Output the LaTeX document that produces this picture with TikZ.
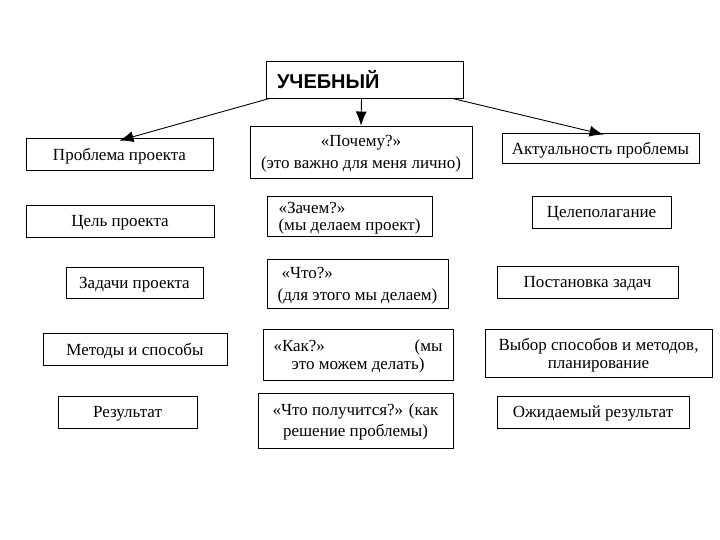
\documentclass[tikz,border=0pt]{standalone}
\usepackage{fontspec}
\setmainfont{Liberation Serif}
\newfontfamily\headfont{Liberation Sans}
\usetikzlibrary{arrows.meta}

\begin{document}
\begin{tikzpicture}[x=1pt,y=-1pt,
	box/.style={draw,line width=0.9pt,inner sep=0pt,text depth=0pt,font=\fontsize{17}{20}\selectfont},
	arr/.style={line width=0.9pt,-{Latex[length=14pt,width=11pt]}}]
	\useasboundingbox (0,0) rectangle (720,540);

	%top
	\node[box,minimum width=197,minimum height=37,text width=175,align=left,
		font=\headfont\bfseries\fontsize{20}{24}\selectfont] (uch) at (364.5,79.5) {УЧЕБНЫЙ};

	%left column
	\node[box,minimum width=187,minimum height=32] (prob) at (119.5,154) {Проблема проекта};
	\node[box,minimum width=188,minimum height=32] (cel)  at (120,221)   {Цель проекта};
	\node[box,minimum width=137,minimum height=31] (zad)  at (134.5,282.5) {Задачи проекта};
	\node[box,minimum width=184,minimum height=32] (met)  at (135,349)   {Методы и способы};
	\node[box,minimum width=139,minimum height=32] (res)  at (127.5,412) {Результат};

	%middle column
	\node[box,minimum width=222,minimum height=52,align=center,font=\fontsize{17}{22}\selectfont]
		(poch) at (361,152) {«Почему?»\\(это важно для меня лично)};
	\node[box,minimum width=165,minimum height=40,align=left,font=\fontsize{17}{17}\selectfont]
		(zach) at (349.5,216) {«Зачем?»\\(мы делаем проект)};
	\node[box,minimum width=181,minimum height=49,align=left,font=\fontsize{17}{22}\selectfont]
		(chto) at (357.5,283.5) {\hspace{4pt}«Что?»\\(для этого мы делаем)};
	\node[box,minimum width=190,minimum height=51,align=center,font=\fontsize{17}{18}\selectfont]
		(kak) at (358,354.5) {\makebox[169pt]{«Как?»\hfill(мы}\\это можем делать)};
	\node[box,minimum width=195,minimum height=55,align=center,font=\fontsize{17}{21}\selectfont]
		(poluch) at (355.5,420.5) {«Что получится?» (как\\решение проблемы)};

	%right column
	\node[box,minimum width=197,minimum height=30] (akt)  at (600.5,148) {Актуальность проблемы};
	\node[box,minimum width=139,minimum height=32] (celp) at (601.5,212) {Целеполагание};
	\node[box,minimum width=181,minimum height=32] (post) at (587.5,282) {Постановка задач};
	\node[box,minimum width=227,minimum height=48,align=center,font=\fontsize{17}{18}\selectfont]
		(vyb) at (598.5,353) {Выбор способов и методов,\\планирование};
	\node[box,minimum width=192,minimum height=32] (ozh)  at (593,412) {Ожидаемый результат};

	%arrows
	\draw[arr] ([xshift=4pt]uch.south west) -- ([yshift=-3pt]prob.north);
	\draw[arr] ([xshift=-3pt]uch.south) -- (poch.north);
	\draw[arr] ([xshift=-11pt]uch.south east) -- ([xshift=3pt,yshift=-2pt]akt.north);
\end{tikzpicture}
\end{document}
